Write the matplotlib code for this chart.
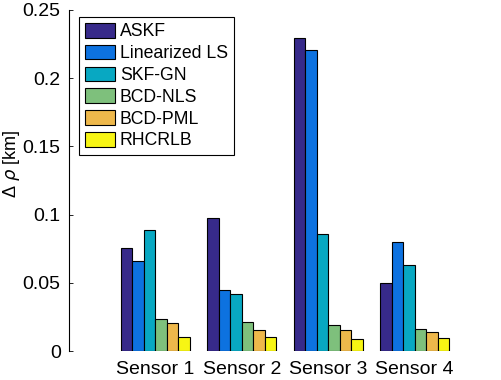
import numpy as np
import matplotlib.pyplot as plt

plt.rcParams['font.family'] = ['Liberation Sans', 'DejaVu Sans']

# Данные
sensors = ['Sensor 1', 'Sensor 2', 'Sensor 3', 'Sensor 4']
methods = ['ASKF', 'Linearized LS', 'SKF-GN', 'BCD-NLS', 'BCD-PML', 'RHCRLB']
askf = [0.0752, 0.0973, 0.2295, 0.0496]
lin_ls = [0.0657, 0.0445, 0.2210, 0.0800]
skf_gn = [0.0890, 0.0415, 0.0855, 0.0630]
bcd_nls = [0.0237, 0.0215, 0.0190, 0.0159]
bcd_pml = [0.0207, 0.0154, 0.0154, 0.0139]
rhcrlb = [0.0103, 0.0103, 0.0086, 0.0095]

colors = ['#372a8a', '#0d72e0', '#08a8c2', '#7ec07c', '#eeb84b', '#f7f514']

series = [askf, lin_ls, skf_gn, bcd_nls, bcd_pml, rhcrlb]

fig = plt.figure(figsize=(5.02, 3.80), dpi=100)
ax = fig.add_axes([0.1375, 0.0763, 0.8605, 0.8974])

x = np.arange(1, len(sensors) + 1)
n = len(series)
w = 0.8 / n
for k, vals in enumerate(series):
    ax.bar(x + (k - (n - 1) / 2) * w, vals, width=w, color=colors[k],
           edgecolor='black', linewidth=0.8, label=methods[k])

ax.set_xlim(0, 5)
ax.set_ylim(0, 0.25)
ax.set_xticks(x)
ax.set_xticklabels(sensors, fontsize=14)
ax.set_yticks([0, 0.05, 0.1, 0.15, 0.2, 0.25])
ax.set_yticklabels(['0', '0.05', '0.1', '0.15', '0.2', '0.25'], fontsize=14)
ax.tick_params(axis='x', length=0, pad=7)
ax.tick_params(axis='y', direction='in', length=3, width=0.6, pad=6)

for s in ['top', 'right', 'bottom']:
    ax.spines[s].set_visible(False)
ax.spines['left'].set_linewidth(0.8)

ax.set_ylabel('Δ $\\rho$ [km]', fontsize=13, va='center')
ax.yaxis.set_label_coords(-0.133, 0.55)

leg = ax.legend(loc='upper left', bbox_to_anchor=(0.023, 0.979), borderaxespad=0,
                fontsize=12.7, fancybox=False, framealpha=1, edgecolor='black',
                handlelength=1.7, handleheight=0.9, labelspacing=0.25,
                handletextpad=0.28, borderpad=0.33)
leg.get_frame().set_linewidth(0.8)

plt.savefig('out.png', dpi=100)
